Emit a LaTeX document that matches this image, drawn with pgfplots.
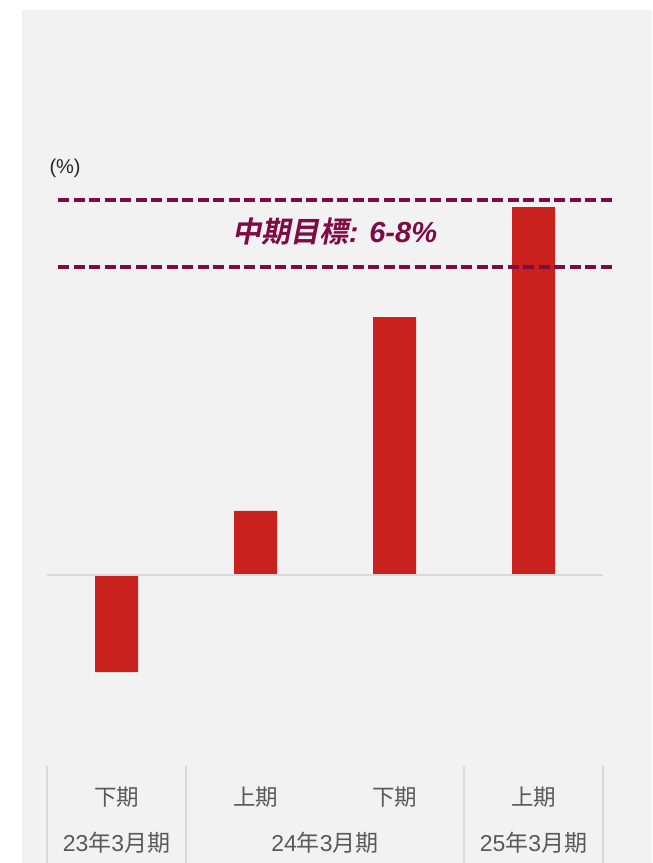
\documentclass[border=0pt]{standalone}
\usepackage{fontspec}
\usepackage{pgfplots}
\pgfplotsset{compat=1.18}
\setmainfont{Liberation Sans}
\newfontfamily\cjk{Noto Sans CJK JP}
\newfontfamily\cjkbi{Noto Sans CJK JP Bold}[FakeSlant=0.2]
\definecolor{bg}{HTML}{F2F2F2}
\definecolor{barred}{HTML}{C9211E}
\definecolor{gridc}{HTML}{D9D9D9}
\definecolor{mag}{HTML}{7F0B44}
\definecolor{lab}{HTML}{595959}
\begin{document}
\begin{tikzpicture}
\begin{axis}[
  scale only axis, width=630pt, height=853pt,
  xmin=-0.6799, xmax=3.8525, ymin=-6.144, ymax=12.053,
  axis background/.style={fill=bg},
  axis line style={draw=none},
  major tick length=0pt,
  xtick={0,1,2,3},
  xticklabels={下期,上期,下期,上期},
  xticklabel style={font=\cjk\fontsize{22.5}{24}\selectfont, text=lab, anchor=center, yshift=66pt},
  ytick=\empty,
  clip=false,
]
\coordinate (sw) at (rel axis cs:0,0);
\coordinate (ne) at (rel axis cs:1,1);
% bars (%)
\addplot[ybar, bar width=43pt, fill=barred, draw=none] coordinates {(0,-2.07) (1,1.37) (2,5.50) (3,7.85)};
% zero line
\addplot[gridc, line width=2pt] coordinates {(-0.5,0) (3.5,0)};
% target band lines
\addplot[mag, line width=3.4pt, dash pattern=on 11pt off 4.5pt] coordinates {(-0.42,8) (3.588,8)};
\addplot[mag, line width=3.4pt, dash pattern=on 11pt off 4.5pt] coordinates {(-0.42,6.571) (3.588,6.571)};
% category separators
\addplot[gridc, line width=2pt] coordinates {(-0.5,-4.075) (-0.5,-6.144)};
\addplot[gridc, line width=2pt] coordinates {(0.5,-4.075) (0.5,-6.144)};
\addplot[gridc, line width=2pt] coordinates {(2.5,-4.075) (2.5,-6.144)};
\addplot[gridc, line width=2pt] coordinates {(3.5,-4.075) (3.5,-6.144)};
% texts
\node[text=lab, font=\fontsize{23}{25}\selectfont] at (axis cs:0,-5.717) {23{\cjk 年}3{\cjk 月期}};
\node[text=lab, font=\fontsize{23}{25}\selectfont] at (axis cs:1.5,-5.717) {24{\cjk 年}3{\cjk 月期}};
\node[text=lab, font=\fontsize{23}{25}\selectfont] at (axis cs:3,-5.717) {25{\cjk 年}3{\cjk 月期}};
\node[text=black!85, font=\fontsize{20}{22}\selectfont] at (axis cs:-0.37,8.683) {(\%)};
\node[text=mag, font=\fontsize{29}{31}\selectfont] at (axis cs:1.572,7.317) {{\cjkbi 中期目標}{\bfseries\itshape : 6-8\%}};
\end{axis}
\pgfresetboundingbox
\path ([xshift=-22pt]sw) rectangle ([yshift=10pt]ne);
\end{tikzpicture}
\end{document}
